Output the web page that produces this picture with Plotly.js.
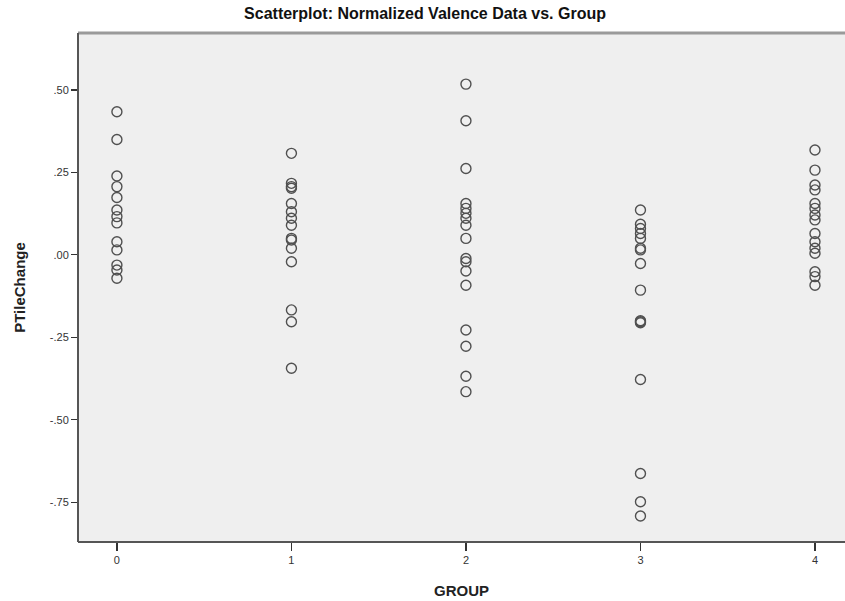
<!DOCTYPE html>
<html>
<head>
<meta charset="utf-8">
<script src="https://cdn.plot.ly/plotly-3.0.1.min.js"></script>
<style>html,body{margin:0;padding:0;background:#fff;}#chart{width:845px;height:601px;}</style>
</head>
<body>
<div id="chart"></div>
<script>
const group0 = [0.434, 0.350, 0.239, 0.207, 0.174, 0.136, 0.116, 0.097, 0.040, 0.015, -0.031, -0.046, -0.071];
const group1 = [0.308, 0.217, 0.207, 0.202, 0.156, 0.131, 0.111, 0.090, 0.050, 0.045, 0.020, -0.021, -0.167, -0.203, -0.344];
const group2 = [0.518, 0.407, 0.262, 0.156, 0.141, 0.126, 0.111, 0.090, 0.050, -0.011, -0.021, -0.049, -0.092, -0.228, -0.277, -0.368, -0.415];
const group3 = [0.136, 0.093, 0.080, 0.065, 0.050, 0.020, 0.015, -0.026, -0.107, -0.200, -0.203, -0.206, -0.378, -0.663, -0.749, -0.792];
const group4 = [0.318, 0.257, 0.212, 0.197, 0.156, 0.141, 0.121, 0.106, 0.065, 0.040, 0.020, 0.005, -0.051, -0.066, -0.092];
const groupIds = [0, 1, 2, 3, 4];
const yTickVals = [0.5, 0.25, 0, -0.25, -0.5, -0.75];
const yTickText = ['.50', '.25', '.00', '-.25', '-.50', '-.75'];

const allGroups = [group0, group1, group2, group3, group4];
const xs = [], ys = [];
allGroups.forEach((g, i) => g.forEach(v => { xs.push(groupIds[i]); ys.push(v); }));

const trace = {
  x: xs, y: ys, type: 'scatter', mode: 'markers',
  marker: {symbol: 'circle-open', size: 10, color: '#505050', line: {width: 1.4, color: '#505050'}},
  hoverinfo: 'x+y', showlegend: false
};

const layout = {
  width: 845, height: 601,
  margin: {l: 78, r: 0, t: 33, b: 59},
  paper_bgcolor: '#ffffff',
  plot_bgcolor: '#efefef',
  font: {family: 'Arial, "Liberation Sans", sans-serif', color: '#222'},
  title: {text: 'Scatterplot: Normalized Valence Data vs. Group', x: 0.503, xanchor: 'center', y: 0.978, yanchor: 'middle',
          font: {size: 16, family: 'Arial, "Liberation Sans", sans-serif', weight: 'bold', color: '#111'}},
  xaxis: {
    range: [-0.223, 4.172], tickvals: groupIds, ticktext: groupIds.map(String),
    showgrid: false, zeroline: false, ticks: 'outside', ticklen: 8, tickwidth: 1.2, tickcolor: '#333',
    tickfont: {size: 11, color: '#333'}, showline: false,
    title: {text: 'GROUP', standoff: 20, font: {size: 15, weight: 'bold', color: '#222'}}
  },
  yaxis: {
    range: [-0.871, 0.673], tickvals: yTickVals, ticktext: yTickText,
    showgrid: false, zeroline: false, ticks: 'outside', ticklen: 6, tickwidth: 1.2, tickcolor: '#333',
    tickfont: {size: 11, color: '#333'}, showline: false,
    title: {text: 'PTileChange', standoff: 20, font: {size: 15, weight: 'bold', color: '#222'}}
  },
  shapes: [
    {type: 'line', xref: 'paper', yref: 'paper', x0: 0, x1: 1, y0: 1, y1: 1, line: {color: '#9a9a9a', width: 3}},
    {type: 'line', xref: 'paper', yref: 'paper', x0: 0, x1: 0, y0: 0, y1: 1, line: {color: '#555', width: 2}},
    {type: 'line', xref: 'paper', yref: 'paper', x0: 0, x1: 1, y0: 0, y1: 0, line: {color: '#555', width: 2}}
  ]
};

Plotly.newPlot('chart', [trace], layout, {displayModeBar: false, staticPlot: true});
</script>
</body>
</html>
